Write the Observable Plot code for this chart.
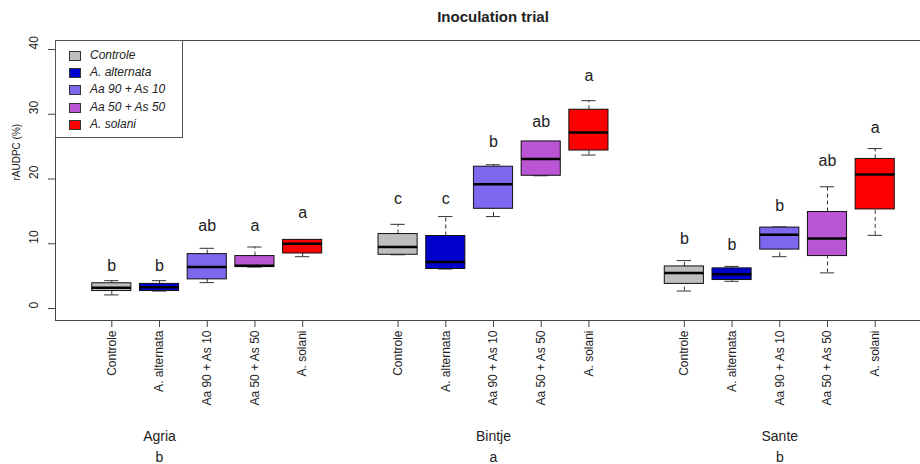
<!DOCTYPE html>
<html>
<head>
<meta charset="utf-8">
<script src="https://cdn.jsdelivr.net/npm/d3@7"></script>
<script src="https://cdn.jsdelivr.net/npm/@observablehq/plot@0.6"></script>
<style>
  html, body { margin: 0; padding: 0; background: #fff; overflow: hidden; }
  #wrap { position: relative; width: 920px; height: 464px; font-family: "Liberation Sans", Arial, sans-serif; color: #222; }
  #title { position: absolute; left: 55px; width: 876px; top: 8px; text-align: center; font-weight: bold; font-size: 15px; line-height: 18px; }
  #chart { position: absolute; left: 0; top: 32px; }
  #chart svg { overflow: hidden; }
  #legend { position: absolute; left: 55px; top: 40px; width: 128px; height: 98px; box-sizing: border-box;
            border: 1px solid #555; background: #fff; padding-top: 6px; }
  .row { position: relative; height: 17.2px; line-height: 17.2px; font-size: 12px; font-style: italic; }
  .sw { position: absolute; left: 13px; top: 4px; width: 10px; height: 8px; border: 1px solid #333; }
  .lb { position: absolute; left: 34px; top: 0; white-space: nowrap; }
</style>
</head>
<body>
<div id="wrap">
  <div id="title">Inoculation trial</div>
  <div id="chart"></div>
  <div id="legend"></div>
</div>
<script>
// Cultivars, treatments and their fill colours
const cultivars = ["Agria", "Bintje", "Sante"];
const cultivarLetters = ["b", "a", "b"];
const treatments = ["Controle", "A. alternata", "Aa 90 + As 10", "Aa 50 + As 50", "A. solani"];
const fills = ["#BEBEBE", "#0000CD", "#7B68EE", "#BA55D3", "#FF0000"];

// Five-number summaries of rAUDPC (%), one row per cultivar, one column per treatment
const whiskerLow  = [[2.1, 2.7, 4.0, 6.4, 8.0], [8.3, 6.1, 14.2, 20.5, 23.7], [2.7, 4.2, 8.0, 5.5, 11.3]];
const quartile1   = [[2.7, 2.7, 4.5, 6.4, 8.5], [8.3, 6.1, 15.4, 20.5, 24.4], [3.8, 4.4, 9.1, 8.1, 15.3]];
const medians     = [[3.2, 3.3, 6.4, 6.6, 10.0], [9.5, 7.2, 19.2, 23.1, 27.2], [5.5, 5.3, 11.4, 10.8, 20.7]];
const quartile3   = [[3.9, 3.8, 8.4, 8.1, 10.6], [11.5, 11.2, 21.9, 25.8, 30.7], [6.5, 6.2, 12.5, 14.9, 23.1]];
const whiskerHigh = [[4.3, 4.3, 9.3, 9.5, 10.6], [13.0, 14.2, 22.2, 25.8, 32.1], [7.4, 6.5, 12.6, 18.8, 24.7]];

// Significance letters above each box, and their heights
const groupLetters = [["b", "b", "ab", "a", "a"], ["c", "c", "b", "ab", "a"], ["b", "b", "b", "ab", "a"]];
const letterHeights = [[6.6, 6.6, 12.7, 12.8, 14.8], [17.0, 17.0, 25.7, 28.8, 36.0], [10.7, 9.8, 15.9, 22.8, 27.9]];

const yTicks = [0, 10, 20, 30, 40];
const xDomain = [-0.18, 18.18];
const yDomain = [-1.85, 41.39];

const boxes = [];
cultivars.forEach((c, gi) => treatments.forEach((t, ti) => boxes.push({
  cultivar: c, treatment: t, pos: gi * 6 + ti + 1,
  lo: whiskerLow[gi][ti], q1: quartile1[gi][ti], med: medians[gi][ti],
  q3: quartile3[gi][ti], hi: whiskerHigh[gi][ti],
  letter: groupLetters[gi][ti], letterY: letterHeights[gi][ti]
})));
// cultivar names sit under the 2nd box of the first group and the 3rd box of the others
const groupPos = cultivars.map((c, gi) => gi * 6 + (gi === 0 ? 2 : 3));
const tickNames = new Map(boxes.map(b => [b.pos, b.treatment]));

const half = 0.41, cap = 0.15;
const plot = Plot.plot({
  width: 920, height: 432,
  marginLeft: 55, marginRight: 0, marginTop: 8, marginBottom: 144,
  style: { fontFamily: "Liberation Sans, Arial, sans-serif", color: "#222", background: "transparent" },
  x: { type: "linear", domain: xDomain, range: [55, 931], axis: null },
  y: { domain: yDomain, axis: null },
  color: { domain: treatments, range: fills },
  marks: [
    // plot border (left, top, bottom)
    Plot.ruleX([xDomain[0]], { stroke: "#444" }),
    Plot.ruleY([yDomain[0], yDomain[1]], { stroke: "#444" }),
    // y axis ticks and labels
    Plot.axisY({ ticks: yTicks, tickSize: 7, tickFormat: () => "", label: null, stroke: "#444" }),
    Plot.text(yTicks, { y: d => d, text: d => String(d), frameAnchor: "left", dx: -21, rotate: -90, fontSize: 12, fill: "#222" }),
    Plot.text(["rAUDPC (%)"], { frameAnchor: "left", dx: -39, rotate: -90, fontSize: 10, fill: "#222" }),
    // x axis ticks and treatment names
    Plot.axisX({ ticks: boxes.map(b => b.pos), tickFormat: p => tickNames.get(p), tickRotate: -90, label: null,
                 tickSize: 7, tickPadding: 3, fontSize: 12, stroke: "#444", fill: "#222" }),
    // whiskers
    Plot.ruleX(boxes, { x: "pos", y1: "q3", y2: "hi", stroke: "#333", strokeDasharray: "4,3" }),
    Plot.ruleX(boxes, { x: "pos", y1: "lo", y2: "q1", stroke: "#333", strokeDasharray: "4,3" }),
    Plot.ruleY(boxes, { y: "hi", x1: d => d.pos - cap, x2: d => d.pos + cap, stroke: "#333" }),
    Plot.ruleY(boxes, { y: "lo", x1: d => d.pos - cap, x2: d => d.pos + cap, stroke: "#333" }),
    // boxes and medians
    Plot.rect(boxes, { x1: d => d.pos - half, x2: d => d.pos + half, y1: "q1", y2: "q3", fill: "treatment", stroke: "#111" }),
    Plot.ruleY(boxes, { y: "med", x1: d => d.pos - half, x2: d => d.pos + half, stroke: "#000", strokeWidth: 2.5 }),
    // significance letters
    Plot.text(boxes, { x: "pos", y: "letterY", text: "letter", fontSize: 16, fill: "#222" }),
    // cultivar names and their letters below the axis
    Plot.text(cultivars, { x: (d, i) => groupPos[i], text: d => d, frameAnchor: "bottom", dy: 120, fontSize: 14, fill: "#222" }),
    Plot.text(cultivarLetters, { x: (d, i) => groupPos[i], text: d => d, frameAnchor: "bottom", dy: 141, fontSize: 14, fill: "#222" })
  ]
});
document.getElementById("chart").appendChild(plot);

// legend inside the plot area
const legend = document.getElementById("legend");
treatments.forEach((t, i) => {
  const row = document.createElement("div");
  row.className = "row";
  row.innerHTML = `<span class="sw" style="background:${fills[i]}"></span><span class="lb">${t}</span>`;
  legend.appendChild(row);
});
</script>
</body>
</html>
